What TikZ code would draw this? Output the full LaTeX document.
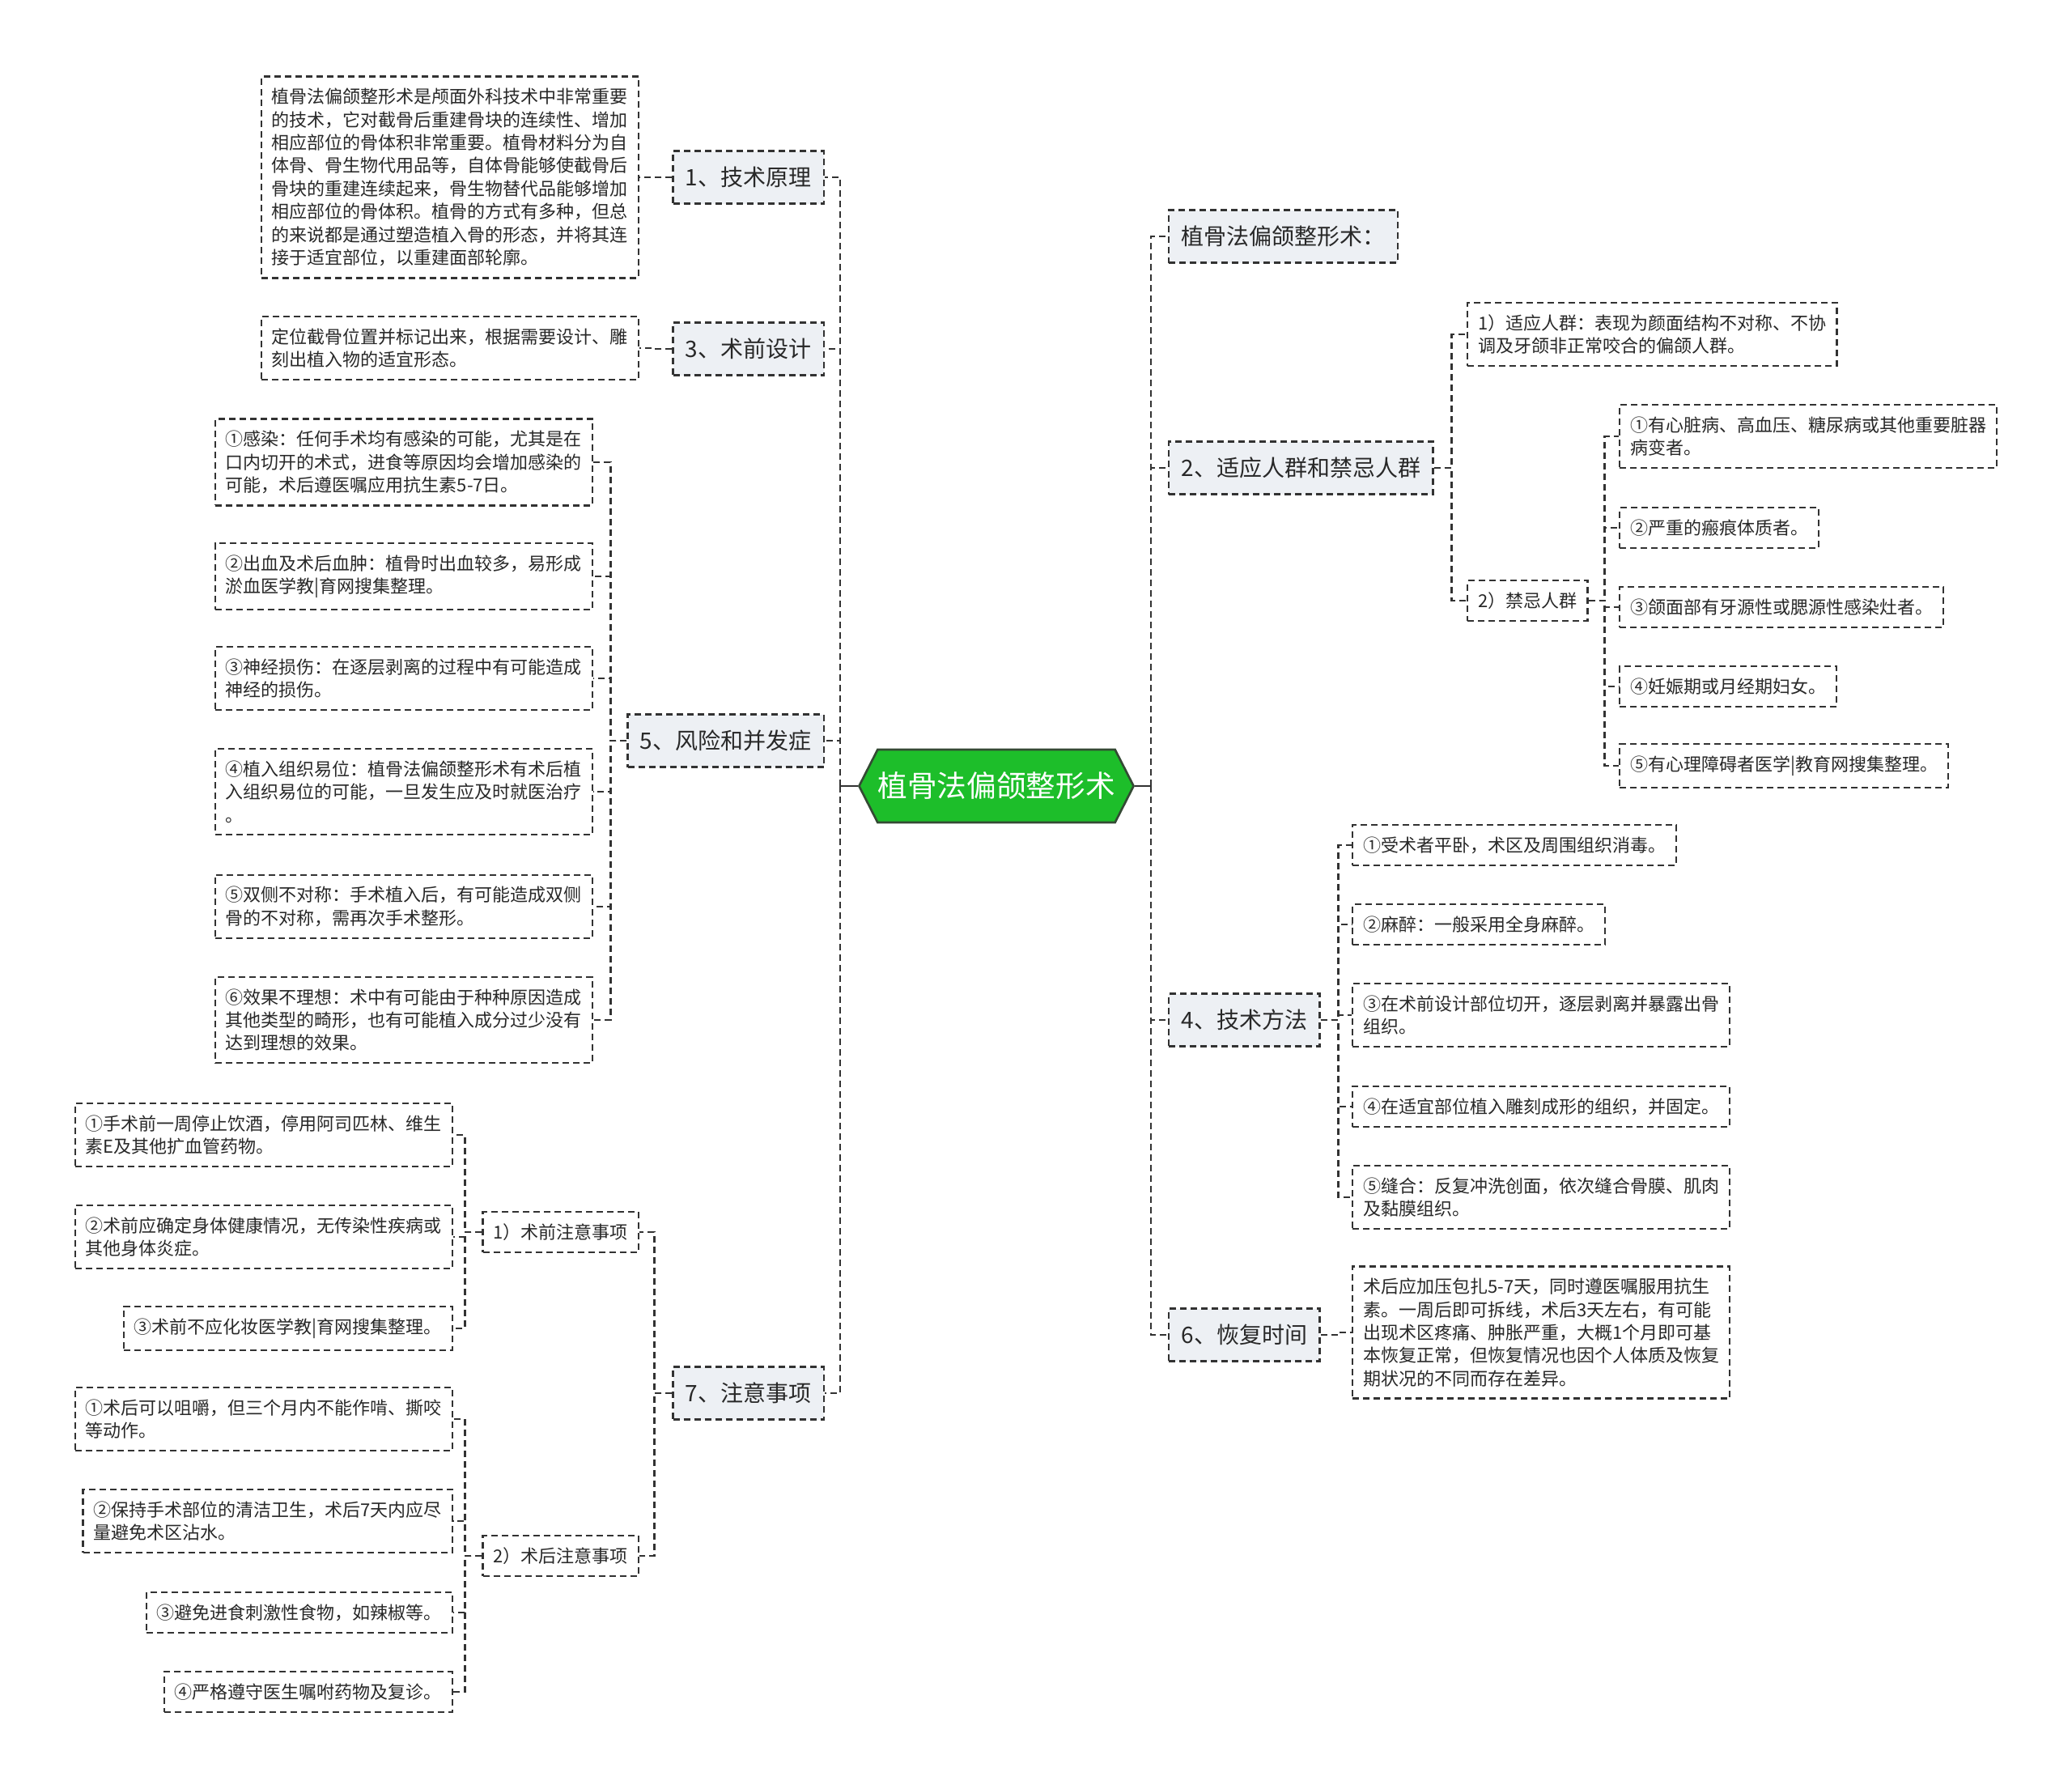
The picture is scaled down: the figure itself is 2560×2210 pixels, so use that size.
\documentclass[tikz,border=0pt]{standalone}
\usepackage{fontspec}
\setmainfont{Noto Sans CJK SC}
\usetikzlibrary{shapes.symbols}
\definecolor{ink}{RGB}{40,40,40}
\definecolor{edgegray}{RGB}{50,50,50}
\definecolor{topicfill}{RGB}{237,240,244}
\definecolor{rootfill}{RGB}{29,190,42}
\definecolor{rootedge}{RGB}{52,74,52}
\begin{document}
\begin{tikzpicture}[x=.3pt,y=-.3pt,
  link/.style={draw=edgegray,line width=0.7pt,dash pattern=on 2.4pt off 1.5pt},
  stem/.style={draw=edgegray,line width=0.75pt},
  leaf/.style={draw=edgegray,line width=0.7pt,dash pattern=on 2.4pt off 1.5pt,fill=white,text=ink,align=left,inner xsep=3.9pt,inner ysep=4.35pt,font=\fontsize{6.6}{8.52}\selectfont},
  topic/.style={leaf,fill=topicfill,inner xsep=4.6pt,inner ysep=0pt,minimum height=19.5pt,font=\fontsize{8.4}{10}\selectfont},
  rootnode/.style={shape=signal,signal to=west and east,signal pointer angle=126,fill=rootfill,draw=rootedge,line width=0.8pt,text=white,inner xsep=0pt,inner ysep=0pt,minimum height=27pt,font=\fontsize{11}{13}\selectfont}]
\path[use as bounding box] (0,0) rectangle (2560,2210);
\node[rootnode] (root) at (1231,971) {植骨法偏颌整形术};
\coordinate (lhub) at (1038,971);
\coordinate (rhub) at (1422,971);
\node[topic,anchor=east] (tech) at (1019,219) {1、技术原理};
\node[topic,anchor=east] (design) at (1019,431) {3、术前设计};
\node[topic,anchor=east] (risk) at (1019,915) {5、风险和并发症};
\node[topic,anchor=east] (care) at (1019,1721) {7、注意事项};
\node[topic,anchor=west] (intro) at (1443,292) {植骨法偏颌整形术：};
\node[topic,anchor=west] (crowd) at (1443,578) {2、适应人群和禁忌人群};
\node[topic,anchor=west] (method) at (1443,1260) {4、技术方法};
\node[topic,anchor=west] (recover) at (1443,1649) {6、恢复时间};
\node[leaf,anchor=east] (techtext) at (790,219) {植骨法偏颌整形术是颅面外科技术中非常重要\\的技术，它对截骨后重建骨块的连续性、增加\\相应部位的骨体积非常重要。植骨材料分为自\\体骨、骨生物代用品等，自体骨能够使截骨后\\骨块的重建连续起来，骨生物替代品能够增加\\相应部位的骨体积。植骨的方式有多种，但总\\的来说都是通过塑造植入骨的形态，并将其连\\接于适宜部位，以重建面部轮廓。};
\node[leaf,anchor=east] (designtext) at (790,430) {定位截骨位置并标记出来，根据需要设计、雕\\刻出植入物的适宜形态。};
\node[leaf,anchor=east] (risk1) at (733,571) {①感染：任何手术均有感染的可能，尤其是在\\口内切开的术式，进食等原因均会增加感染的\\可能，术后遵医嘱应用抗生素5-7日。};
\node[leaf,anchor=east] (risk2) at (733,712) {②出血及术后血肿：植骨时出血较多，易形成\\淤血医学教|育网搜集整理。};
\node[leaf,anchor=east] (risk3) at (733,838) {③神经损伤：在逐层剥离的过程中有可能造成\\神经的损伤。};
\node[leaf,anchor=east] (risk4) at (733,978) {④植入组织易位：植骨法偏颌整形术有术后植\\入组织易位的可能，一旦发生应及时就医治疗\\。};
\node[leaf,anchor=east] (risk5) at (733,1120) {⑤双侧不对称：手术植入后，有可能造成双侧\\骨的不对称，需再次手术整形。};
\node[leaf,anchor=east] (risk6) at (733,1260) {⑥效果不理想：术中有可能由于种种原因造成\\其他类型的畸形，也有可能植入成分过少没有\\达到理想的效果。};
\node[leaf,anchor=east] (before) at (790,1522) {1）术前注意事项};
\node[leaf,anchor=east] (after) at (790,1922) {2）术后注意事项};
\node[leaf,anchor=east] (before1) at (560,1402) {①手术前一周停止饮酒，停用阿司匹林、维生\\素E及其他扩血管药物。};
\node[leaf,anchor=east] (before2) at (560,1528) {②术前应确定身体健康情况，无传染性疾病或\\其他身体炎症。};
\node[leaf,anchor=east] (before3) at (560,1641) {③术前不应化妆医学教|育网搜集整理。};
\node[leaf,anchor=east] (after1) at (560,1753) {①术后可以咀嚼，但三个月内不能作啃、撕咬\\等动作。};
\node[leaf,anchor=east] (after2) at (560,1879) {②保持手术部位的清洁卫生，术后7天内应尽\\量避免术区沾水。};
\node[leaf,anchor=east] (after3) at (560,1992) {③避免进食刺激性食物，如辣椒等。};
\node[leaf,anchor=east] (after4) at (560,2090) {④严格遵守医生嘱咐药物及复诊。};
\node[leaf,anchor=west] (fit) at (1812,413) {1）适应人群：表现为颜面结构不对称、不协\\调及牙颌非正常咬合的偏颌人群。};
\node[leaf,anchor=west] (unfit) at (1812,742) {2）禁忌人群};
\node[leaf,anchor=west] (unfit1) at (2000,539) {①有心脏病、高血压、糖尿病或其他重要脏器\\病变者。};
\node[leaf,anchor=west] (unfit2) at (2000,652) {②严重的瘢痕体质者。};
\node[leaf,anchor=west] (unfit3) at (2000,750) {③颌面部有牙源性或腮源性感染灶者。};
\node[leaf,anchor=west] (unfit4) at (2000,848) {④妊娠期或月经期妇女。};
\node[leaf,anchor=west] (unfit5) at (2000,946) {⑤有心理障碍者医学|教育网搜集整理。};
\node[leaf,anchor=west] (method1) at (1670,1044) {①受术者平卧，术区及周围组织消毒。};
\node[leaf,anchor=west] (method2) at (1670,1142) {②麻醉：一般采用全身麻醉。};
\node[leaf,anchor=west] (method3) at (1670,1254) {③在术前设计部位切开，逐层剥离并暴露出骨\\组织。};
\node[leaf,anchor=west] (method4) at (1670,1367) {④在适宜部位植入雕刻成形的组织，并固定。};
\node[leaf,anchor=west] (method5) at (1670,1479) {⑤缝合：反复冲洗创面，依次缝合骨膜、肌肉\\及黏膜组织。};
\node[leaf,anchor=west] (recovertext) at (1670,1646) {术后应加压包扎5-7天，同时遵医嘱服用抗生\\素。一周后即可拆线，术后3天左右，有可能\\出现术区疼痛、肿胀严重，大概1个月即可基\\本恢复正常，但恢复情况也因个人体质及恢复\\期状况的不同而存在差异。};
\draw[stem] (root.west) -- (lhub);
\draw[stem] (root.east) -- (rhub);
\foreach \n in {tech,design,risk,care} \draw[link] (lhub) |- (\n.east);
\foreach \n in {intro,crowd,method,recover} \draw[link] (rhub) |- (\n.west);
\draw[link] (tech.west) -- ++(-22,0) |- (techtext.east);
\draw[link] (design.west) -- ++(-22,0) |- (designtext.east);
\foreach \n in {risk1,risk2,risk3,risk4,risk5,risk6} \draw[link] (risk.west) -- ++(-20,0) |- (\n.east);
\foreach \n in {before,after} \draw[link] (care.west) -- ++(-22,0) |- (\n.east);
\foreach \n in {before1,before2,before3} \draw[link] (before.west) -- ++(-21,0) |- (\n.east);
\foreach \n in {after1,after2,after3,after4} \draw[link] (after.west) -- ++(-21,0) |- (\n.east);
\foreach \n in {fit,unfit} \draw[link] (crowd.east) -- ++(22,0) |- (\n.west);
\foreach \n in {unfit1,unfit2,unfit3,unfit4,unfit5} \draw[link] (unfit.east) -- ++(20,0) |- (\n.west);
\foreach \n in {method1,method2,method3,method4,method5} \draw[link] (method.east) -- ++(22,0) |- (\n.west);
\draw[link] (recover.east) -- ++(22,0) |- (recovertext.west);
\end{tikzpicture}
\end{document}
